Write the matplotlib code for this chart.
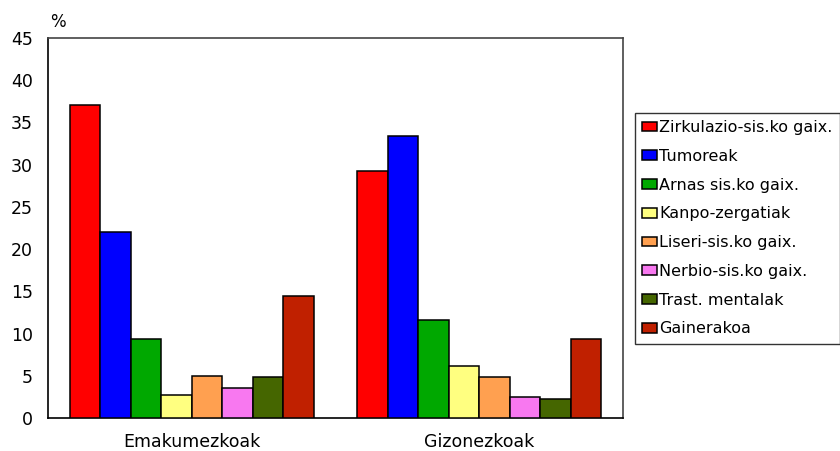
import numpy as np
import matplotlib
matplotlib.use("Agg")
import matplotlib.pyplot as plt

# data (percent)
groups = ["Emakumezkoak", "Gizonezkoak"]
causes = ["Zirkulazio-sis.ko gaix.", "Tumoreak", "Arnas sis.ko gaix.",
          "Kanpo-zergatiak", "Liseri-sis.ko gaix.", "Nerbio-sis.ko gaix.",
          "Trast. mentalak", "Gainerakoa"]
women = [37.1, 22.0, 9.3, 2.7, 5.0, 3.6, 4.9, 14.4]
men = [29.2, 33.4, 11.6, 6.1, 4.8, 2.5, 2.3, 9.3]
colors = ["#ff0000", "#0000ff", "#00a800", "#ffff80",
          "#ffa050", "#f878f0", "#456600", "#c02000"]

plt.rcParams['font.family'] = ['DejaVu Sans']

fig = plt.figure(figsize=(8.4, 4.51), dpi=100)
ax = fig.add_axes([48/840, 1 - 418/451, 575/840, 380/451])

x = np.arange(len(groups))
n = len(causes)
w = 0.85 / n
for i in range(n):
    vals = [women[i], men[i]]
    ax.bar(x - 0.425 + w*(i + 0.5), vals, width=w, color=colors[i],
           edgecolor="black", linewidth=1.1, label=causes[i], zorder=3)

ax.set_xlim(-0.5, 1.5)
ax.set_ylim(0, 45)
ax.set_yticks(range(0, 46, 5))
ax.set_xticks(x)
ax.set_xticklabels(groups, fontsize=12.5)
ax.tick_params(axis="y", length=0, pad=11, labelsize=12.5)
ax.tick_params(axis="x", length=0, pad=11)
for s in ["left", "bottom"]:
    ax.spines[s].set_color("black")
    ax.spines[s].set_linewidth(1.2)
for s in ["top", "right"]:
    ax.spines[s].set_color("#444444")
    ax.spines[s].set_linewidth(1.2)

fig.text(50/840, 1 - 22/451, "%", fontsize=12, va="center", ha="left")

leg = fig.legend(loc="upper left", bbox_to_anchor=(635/840, 1 - 113/451),
                 fontsize=11.5, frameon=True, fancybox=False, borderaxespad=0,
                 handlelength=0.9, handleheight=0.55, handletextpad=0.15,
                 labelspacing=0.86, borderpad=0.45)
leg.get_frame().set_edgecolor("black")
leg.get_frame().set_linewidth(1.0)

fig.savefig("out.png", dpi=100)
